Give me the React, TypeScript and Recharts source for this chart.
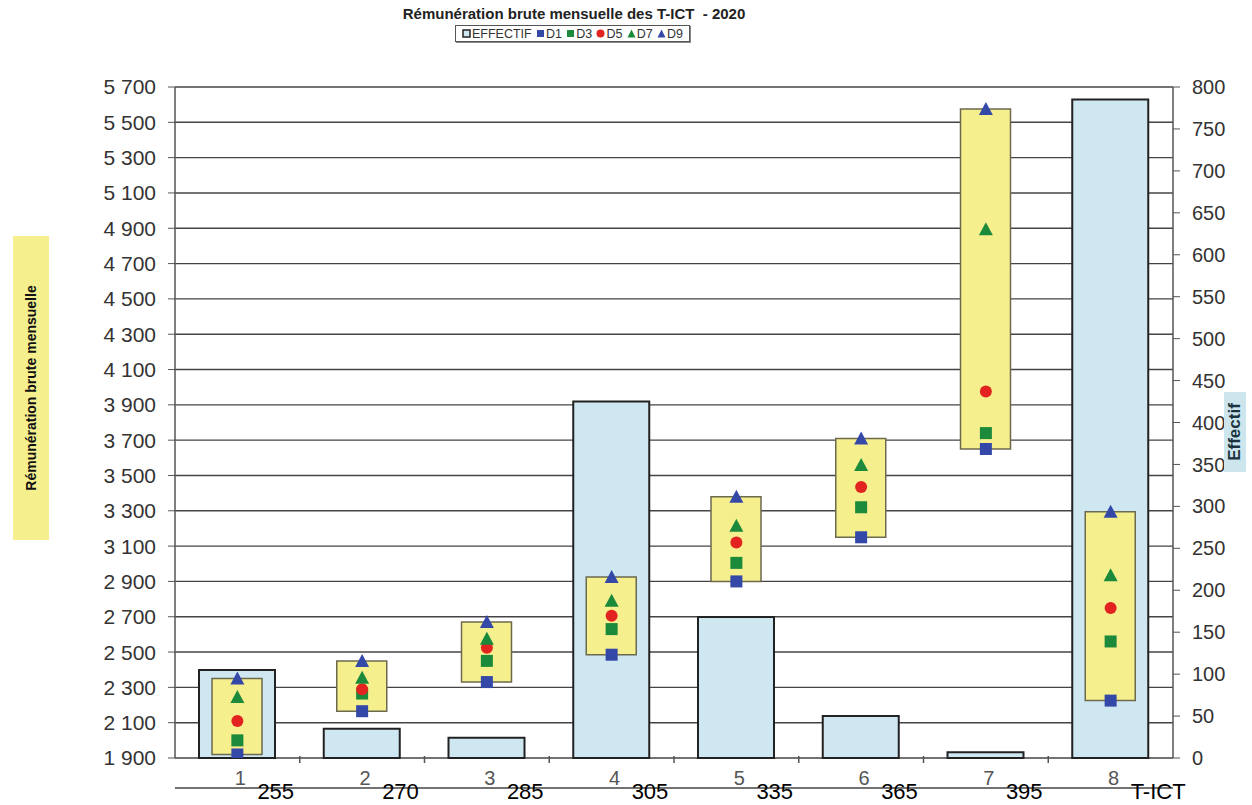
import React from "react";
import { ComposedChart, Bar, Line, XAxis, YAxis, CartesianGrid } from "recharts";

const CATEGORIES = ["1", "2", "3", "4", "5", "6", "7", "8"];
const INDICES = ["255", "270", "285", "305", "335", "365", "395", "T-ICT"];
const EFFECTIF = [105, 35, 24, 425, 168, 50, 7, 785];
const D1 = [1920, 2165, 2330, 2485, 2900, 3150, 3650, 2225];
const D3 = [2000, 2265, 2450, 2630, 3005, 3320, 3740, 2560];
const D5 = [2110, 2290, 2525, 2705, 3120, 3435, 3975, 2750];
const D7 = [2245, 2355, 2575, 2790, 3215, 3560, 4895, 2935];
const D9 = [2350, 2450, 2670, 2925, 3380, 3710, 5575, 3295];
const LEFT_TICKS = [
  1900, 2100, 2300, 2500, 2700, 2900, 3100, 3300, 3500, 3700, 3900, 4100, 4300, 4500, 4700,
  4900, 5100, 5300, 5500, 5700,
];
const RIGHT_TICKS = [
  0, 50, 100, 150, 200, 250, 300, 350, 400, 450, 500, 550, 600, 650, 700, 750, 800,
];

const data = CATEGORIES.map((name, i) => ({
  name,
  effectif: EFFECTIF[i],
  box: [D1[i], D9[i]],
  d1: D1[i],
  d3: D3[i],
  d5: D5[i],
  d7: D7[i],
  d9: D9[i],
}));

const FONT = "'Liberation Sans', Arial, sans-serif";
const BLUE = "#3448a8";
const GREEN = "#1b8a3a";
const RED = "#e2231f";
const BAR_BLUE = "#cfe7f1";
const BOX_YELLOW = "#f6ef8e";

const fmt = (v: number) =>
  v >= 1000 ? `${Math.floor(v / 1000)} ${String(v % 1000).padStart(3, "0")}` : String(v);

const square = (color: string) => (p: any) => (
  <rect key={`s${p.index}`} x={p.cx - 6} y={p.cy - 6} width={12} height={12} fill={color} />
);
const circle = (color: string) => (p: any) => (
  <circle key={`c${p.index}`} cx={p.cx} cy={p.cy} r={6} fill={color} />
);
const triangle = (color: string) => (p: any) => (
  <polygon
    key={`t${p.index}`}
    points={`${p.cx},${p.cy - 7} ${p.cx + 7},${p.cy + 6} ${p.cx - 7},${p.cy + 6}`}
    fill={color}
  />
);

// tick props arrive a bit below the axis line, pull back up to it
function CategoryTick(props: any) {
  const { x, payload, index } = props;
  const y = props.y - 32;
  const half = payload.offset || 62.4;
  return (
    <g>
      {index > 0 && <line x1={x - half} y1={y} x2={x - half} y2={y + 7} stroke="#555" strokeWidth={1.5} />}
      <text x={x + 3} y={y + 29} textAnchor="middle" fontSize={20} fill="#555" fontFamily={FONT}>
        {payload.value}
      </text>
      <text x={x + 20} y={y + 43} fontSize={22} fill="#000" fontFamily={FONT}>
        {INDICES[payload.index ?? index]}
      </text>
    </g>
  );
}

const legendItems = [
  { label: "EFFECTIF", icon: "bar" },
  { label: "D1", icon: "square", color: BLUE },
  { label: "D3", icon: "square", color: GREEN },
  { label: "D5", icon: "circle", color: RED },
  { label: "D7", icon: "triangle", color: GREEN },
  { label: "D9", icon: "triangle", color: BLUE },
];

function LegendIcon({ icon, color }: { icon: string; color?: string }) {
  return (
    <svg width={9} height={9} style={{ marginRight: 1 }}>
      {icon === "bar" && <rect x={1} y={1} width={7} height={7} fill={BAR_BLUE} stroke="#222" strokeWidth={1.5} />}
      {icon === "square" && <rect x={1} y={1} width={7} height={7} fill={color} />}
      {icon === "circle" && <circle cx={4.5} cy={4.5} r={4} fill={color} />}
      {icon === "triangle" && <polygon points="4.5,0.5 8.5,8.5 0.5,8.5" fill={color} />}
    </svg>
  );
}

export default function App() {
  return (
    <div style={{ position: "relative", width: 1252, height: 805, fontFamily: FONT, background: "#fff" }}>
      <style>{"body{margin:0}"}</style>
      <div
        style={{
          position: "absolute",
          top: 5,
          left: 0,
          width: 1148,
          textAlign: "center",
          fontSize: 15,
          fontWeight: "bold",
          color: "#222",
        }}
      >
        Rémunération brute mensuelle des T-ICT&nbsp; - 2020
      </div>
      <div
        style={{
          position: "absolute",
          top: 25,
          left: 455,
          width: 235,
          height: 17,
          border: "1px solid #555",
          boxShadow: "1px 1px 0 #888",
          display: "flex",
          alignItems: "center",
          justifyContent: "space-between",
          fontSize: 12.5,
          color: "#333",
          boxSizing: "border-box",
          padding: "0 6px",
        }}
      >
        {legendItems.map((it) => (
          <span key={it.label} style={{ display: "flex", alignItems: "center" }}>
            <LegendIcon icon={it.icon} color={it.color} />
            {it.label}
          </span>
        ))}
      </div>
      <div
        style={{
          position: "absolute",
          left: 31 - 152,
          top: 388 - 18,
          width: 304,
          height: 36,
          transform: "rotate(-90deg)",
          background: BOX_YELLOW,
          fontSize: 14,
          fontWeight: "bold",
          color: "#111",
          display: "flex",
          alignItems: "center",
          justifyContent: "center",
        }}
      >
        Rémunération brute mensuelle
      </div>
      <div
        style={{
          position: "absolute",
          left: 1235 - 40,
          top: 432 - 11,
          width: 80,
          height: 22,
          transform: "rotate(-90deg)",
          background: "#cde6ee",
          fontSize: 17,
          fontWeight: "bold",
          color: "#1c3440",
          display: "flex",
          alignItems: "center",
          justifyContent: "center",
          zIndex: 2,
        }}
      >
        Effectif
      </div>
      <ComposedChart
        width={1252}
        height={805}
        data={data}
        margin={{ top: 87, right: 0, bottom: 0, left: 95 }}
        barGap={0}
      >
        <CartesianGrid
          xAxisId="main"
          yAxisId="left"
          vertical={false}
          stroke="#444"
          strokeWidth={1.4}
        />
        <XAxis
          xAxisId="main"
          dataKey="name"
          height={47}
          tickLine={false}
          tickSize={0}
          tickMargin={0}
          axisLine={{ stroke: "#444", strokeWidth: 1.5 }}
          tick={<CategoryTick />}
          interval={0}
        />
        <XAxis xAxisId="box" dataKey="name" hide />
        <YAxis
          yAxisId="left"
          domain={[1900, 5700]}
          ticks={LEFT_TICKS}
          width={80}
          tickFormatter={fmt}
          tickSize={7}
          tickMargin={12}
          axisLine={{ stroke: "#555", strokeWidth: 1.5 }}
          tickLine={{ stroke: "#555" }}
          tick={{ fontSize: 21, fill: "#333", fontFamily: FONT }}
          allowDataOverflow
        />
        <YAxis
          yAxisId="right"
          orientation="right"
          domain={[0, 800]}
          ticks={RIGHT_TICKS}
          width={79}
          tickSize={7}
          tickMargin={12}
          axisLine={{ stroke: "#555", strokeWidth: 1.5 }}
          tickLine={{ stroke: "#555" }}
          tick={{ fontSize: 20, fill: "#333", fontFamily: FONT, textAnchor: "start" }}
        />
        <Bar
          xAxisId="main"
          yAxisId="right"
          dataKey="effectif"
          barSize={76}
          fill={BAR_BLUE}
          stroke="#222"
          strokeWidth={2}
          isAnimationActive={false}
        />
        <Bar
          xAxisId="box"
          yAxisId="left"
          dataKey="box"
          barSize={50}
          fill={BOX_YELLOW}
          stroke="#6b6a4e"
          strokeWidth={1.5}
          isAnimationActive={false}
        />
        <Line xAxisId="main" yAxisId="left" dataKey="d1" stroke="none" dot={square(BLUE)} activeDot={false} isAnimationActive={false} />
        <Line xAxisId="main" yAxisId="left" dataKey="d3" stroke="none" dot={square(GREEN)} activeDot={false} isAnimationActive={false} />
        <Line xAxisId="main" yAxisId="left" dataKey="d5" stroke="none" dot={circle(RED)} activeDot={false} isAnimationActive={false} />
        <Line xAxisId="main" yAxisId="left" dataKey="d7" stroke="none" dot={triangle(GREEN)} activeDot={false} isAnimationActive={false} />
        <Line xAxisId="main" yAxisId="left" dataKey="d9" stroke="none" dot={triangle(BLUE)} activeDot={false} isAnimationActive={false} />
      </ComposedChart>
    </div>
  );
}
